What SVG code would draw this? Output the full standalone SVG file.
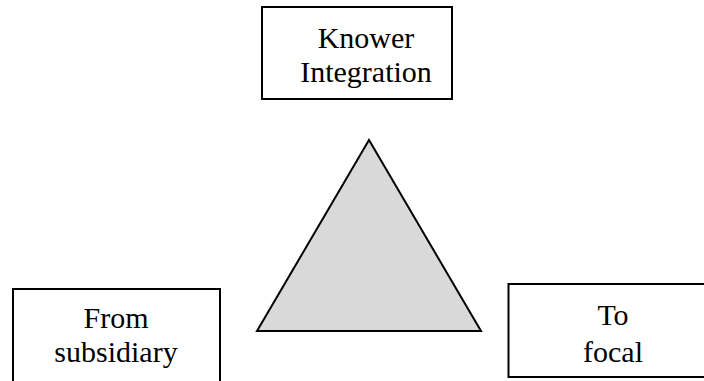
<svg xmlns="http://www.w3.org/2000/svg" width="704" height="381" viewBox="0 0 704 381">
<style>
.box{fill:#fff;stroke:#000;stroke-width:2}
.t{font-family:"Liberation Serif","Times New Roman",serif;font-size:30px;fill:#000;text-anchor:middle}
</style>
<rect width="704" height="381" fill="#fff"/>
<g id="connectors"></g>
<g id="triangle">
<polygon points="369,140 257,331 481,331" fill="#d9d9d9" stroke="#000" stroke-width="2"/>
</g>
<g id="knower">
<rect class="box" x="262" y="7" width="190" height="92"/>
<text class="t" x="366" y="48">Knower</text>
<text class="t" x="366" y="82">Integration</text>
</g>
<g id="from">
<rect class="box" x="13" y="289" width="207" height="110"/>
<text class="t" x="116" y="328">From</text>
<text class="t" x="116" y="362">subsidiary</text>
</g>
<g id="to">
<rect class="box" x="508.5" y="284" width="210" height="93"/>
<text class="t" x="613" y="325">To</text>
<text class="t" x="613" y="362">focal</text>
</g>
</svg>
